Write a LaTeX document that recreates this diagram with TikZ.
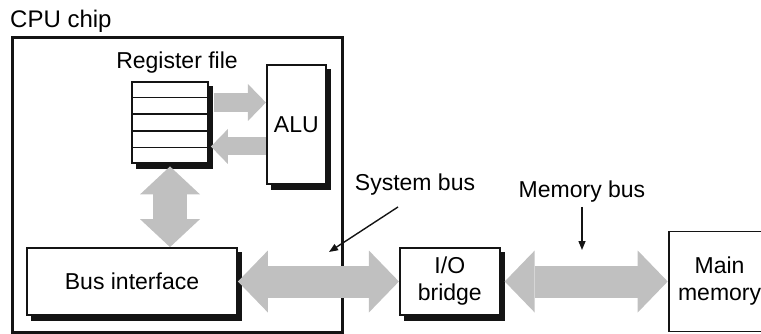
\documentclass[tikz,border=0pt]{standalone}
\usepackage{fontspec}
\setmainfont{Liberation Sans}
\usetikzlibrary{arrows.meta,positioning,calc,backgrounds}
\definecolor{ink}{RGB}{20,20,20}
\definecolor{busgray}{RGB}{192,192,192}
\tikzset{
  chip/.style={draw=ink,line width=3pt,inner sep=0pt},
  unit/.style={draw=ink,line width=1.8pt,fill=white,align=center,inner sep=0pt},
  lbl/.style={inner sep=0pt},
  fat/.style n args={3}{draw=busgray,line width=#1,
    arrows={Triangle[length=#2,width=#3,line width=0pt]-Triangle[length=#2,width=#3,line width=0pt]}},
  fatto/.style n args={3}{draw=busgray,line width=#1,
    arrows={-Triangle[length=#2,width=#3,line width=0pt]}},
  lead/.style={-{Triangle[length=9pt,width=7pt]},line width=1.4pt,ink},
}

\begin{document}
\begin{tikzpicture}[x=1pt,y=-1pt,font=\fontsize{23}{27}\selectfont]
\useasboundingbox (0,0) rectangle (761,334);
\clip (0,0) rectangle (761,334);
% CPU chip
\node[lbl,anchor=base west,font=\fontsize{24}{27}\selectfont] (cpulbl) at (10,28) {CPU chip};
\node[chip,minimum width=330pt,minimum height=294pt] (cpu) at (177,185) {};
\node[unit,minimum width=76pt,minimum height=81pt] (regs) at (170,122.5) {};
\foreach \k in {1,...,4}
  \draw[ink,line width=1.5pt] ($(regs.north west)!\k/5!(regs.south west)$) -- ($(regs.north east)!\k/5!(regs.south east)$);
\node[lbl,anchor=base] (reglbl) at (177,69) {Register file};
\node[unit,minimum width=59pt,minimum height=119pt,right=57pt of regs,yshift=-2pt] (alu) {ALU};
\node[unit,minimum width=210pt,minimum height=67pt] (busif) at (132,281.5) {Bus interface};
% outside the chip
\node[unit,minimum width=100pt,minimum height=67pt,right=161pt of busif] (iob) {I/O\\bridge};
\node[unit,minimum width=102pt,minimum height=100pt,right=167pt of iob] (mem) {Main\\memory};
% shadows
\begin{scope}[on background layer]
\foreach \n in {regs,alu,busif,iob}
  \fill[ink] ($(\n.north east)+(4.5,5)$) rectangle ($(\n.south west)+(5,5)$);
\end{scope}
% buses
\draw[fatto={19pt}{18pt}{37pt}] ($(regs.east |- alu.west)+(5,-22)$) -- ($(alu.west)+(0,-22)$);
\draw[fatto={18pt}{17pt}{35pt}] ($(alu.west)+(0,22)$) -- ($(regs.east |- alu.west)+(2,22)$);
\draw[fat={34pt}{28pt}{60pt}] ($(regs.south)+(0,2.5)$) -- (regs.south |- busif.north);
\draw[fat={32pt}{30pt}{62pt}] (busif.east) -- (iob.west);
\draw[fat={32pt}{30pt}{62pt}] ($(iob.east)+(4,0)$) -- (mem.west);
% labels
\node[lbl,anchor=base] (syslbl) at (415,190) {System bus};
\coordinate (systip) at (329,252);
\draw[lead] ($(syslbl.south)+(-17,12)$) -- (systip);
\node[lbl,anchor=base] (memlbl) at (582,197) {Memory bus};
\coordinate (memtip) at (582,250);
\draw[lead] ($(memlbl.south)+(0,5)$) -- (memtip);
\end{tikzpicture}
\end{document}
